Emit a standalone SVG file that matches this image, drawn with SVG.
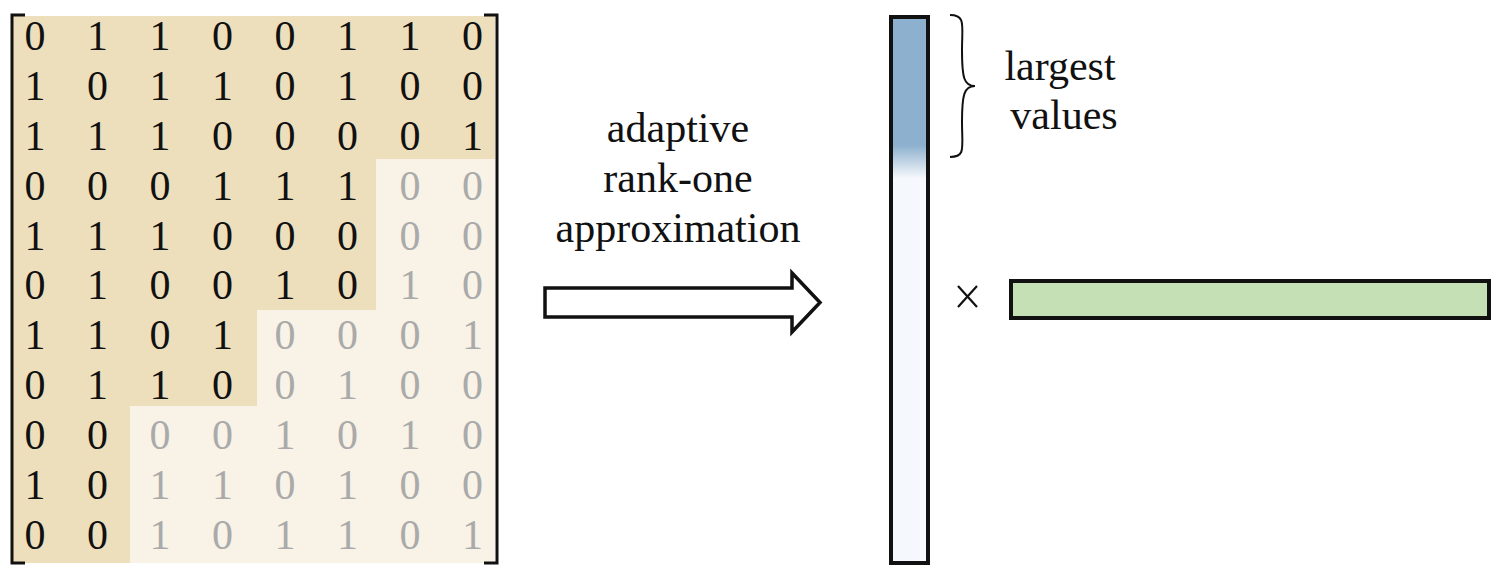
<svg xmlns="http://www.w3.org/2000/svg" width="1500" height="577" viewBox="0 0 1500 577">
<style>
.d{font-family:'Liberation Serif','Tinos','DejaVu Serif',serif;font-size:42px;text-anchor:middle;fill:#111}
.g{fill:#aaaaaa}
.lbl{font-family:'Liberation Serif','Tinos','DejaVu Serif',serif;font-size:42px;text-anchor:middle;fill:#111}
.br{fill:none;stroke:#111;stroke-width:3}
</style>
<defs>
<linearGradient id="blue" gradientUnits="userSpaceOnUse" x1="0" y1="17" x2="0" y2="563">
<stop offset="0" stop-color="#8db0ce"/>
<stop offset="0.235" stop-color="#8db0ce"/>
<stop offset="0.295" stop-color="#f5f8fc"/>
<stop offset="1" stop-color="#f5f8fc"/>
</linearGradient>
</defs>
<rect width="1500" height="577" fill="#ffffff"/>
<g id="matrix">
<rect x="13" y="16" width="482" height="547" fill="#f8f3e6"/>
<path d="M13,16 H495 V159 H376 V310 H257 V406 H130 V563 H13 Z" fill="#eedfbc"/>
<path class="br" d="M25,15 H12 V563 H25"/>
<path class="br" d="M484,15 H497 V563 H484"/>
<g class="d" font-family="Liberation Serif, DejaVu Serif, serif">
<text x="35" y="50">0</text><text x="97.5" y="50">1</text><text x="160" y="50">1</text><text x="222.5" y="50">0</text><text x="285" y="50">0</text><text x="347.5" y="50">1</text><text x="410" y="50">1</text><text x="472.5" y="50">0</text>
<text x="35" y="100">1</text><text x="97.5" y="100">0</text><text x="160" y="100">1</text><text x="222.5" y="100">1</text><text x="285" y="100">0</text><text x="347.5" y="100">1</text><text x="410" y="100">0</text><text x="472.5" y="100">0</text>
<text x="35" y="150">1</text><text x="97.5" y="150">1</text><text x="160" y="150">1</text><text x="222.5" y="150">0</text><text x="285" y="150">0</text><text x="347.5" y="150">0</text><text x="410" y="150">0</text><text x="472.5" y="150">1</text>
<text x="35" y="200">0</text><text x="97.5" y="200">0</text><text x="160" y="200">0</text><text x="222.5" y="200">1</text><text x="285" y="200">1</text><text x="347.5" y="200">1</text><text class="g" x="410" y="200">0</text><text class="g" x="472.5" y="200">0</text>
<text x="35" y="250">1</text><text x="97.5" y="250">1</text><text x="160" y="250">1</text><text x="222.5" y="250">0</text><text x="285" y="250">0</text><text x="347.5" y="250">0</text><text class="g" x="410" y="250">0</text><text class="g" x="472.5" y="250">0</text>
<text x="35" y="299">0</text><text x="97.5" y="299">1</text><text x="160" y="299">0</text><text x="222.5" y="299">0</text><text x="285" y="299">1</text><text x="347.5" y="299">0</text><text class="g" x="410" y="299">1</text><text class="g" x="472.5" y="299">0</text>
<text x="35" y="349">1</text><text x="97.5" y="349">1</text><text x="160" y="349">0</text><text x="222.5" y="349">1</text><text class="g" x="285" y="349">0</text><text class="g" x="347.5" y="349">0</text><text class="g" x="410" y="349">0</text><text class="g" x="472.5" y="349">1</text>
<text x="35" y="399">0</text><text x="97.5" y="399">1</text><text x="160" y="399">1</text><text x="222.5" y="399">0</text><text class="g" x="285" y="399">0</text><text class="g" x="347.5" y="399">1</text><text class="g" x="410" y="399">0</text><text class="g" x="472.5" y="399">0</text>
<text x="35" y="449">0</text><text x="97.5" y="449">0</text><text class="g" x="160" y="449">0</text><text class="g" x="222.5" y="449">0</text><text class="g" x="285" y="449">1</text><text class="g" x="347.5" y="449">0</text><text class="g" x="410" y="449">1</text><text class="g" x="472.5" y="449">0</text>
<text x="35" y="499">1</text><text x="97.5" y="499">0</text><text class="g" x="160" y="499">1</text><text class="g" x="222.5" y="499">1</text><text class="g" x="285" y="499">0</text><text class="g" x="347.5" y="499">1</text><text class="g" x="410" y="499">0</text><text class="g" x="472.5" y="499">0</text>
<text x="35" y="549">0</text><text x="97.5" y="549">0</text><text class="g" x="160" y="549">1</text><text class="g" x="222.5" y="549">0</text><text class="g" x="285" y="549">1</text><text class="g" x="347.5" y="549">1</text><text class="g" x="410" y="549">0</text><text class="g" x="472.5" y="549">1</text>
</g>
</g>
<g id="connectors">
<path d="M545,288 H792 V273 L820,302.5 L792,332 V317 H545 Z" fill="#ffffff" stroke="#111" stroke-width="3.5" stroke-linejoin="miter"/>
</g>
<g id="arrow-label" class="lbl">
<text x="678" y="142">adaptive</text>
<text x="678" y="192">rank-one</text>
<text x="678" y="242">approximation</text>
</g>
<g id="column-vector">
<rect x="891" y="17" width="37" height="546" fill="url(#blue)" stroke="#111" stroke-width="4"/>
</g>
<g id="brace">
<path d="M950,15 C966,15 962,25 962,50 C962,78 964,86 975,86 C964,86 962,95 962,122 C962,148 966,157 950,157" fill="none" stroke="#111" stroke-width="2"/>
</g>
<g id="brace-label" class="lbl">
<text x="1060" y="80">largest</text>
<text x="1064" y="129">values</text>
</g>
<g id="times">
<path d="M958,286 L977,307 M977,286 L958,307" stroke="#111" stroke-width="2.2" fill="none"/>
</g>
<g id="row-vector">
<rect x="1011" y="281" width="478" height="37" fill="#c5e0b4" stroke="#111" stroke-width="4"/>
</g>
</svg>
